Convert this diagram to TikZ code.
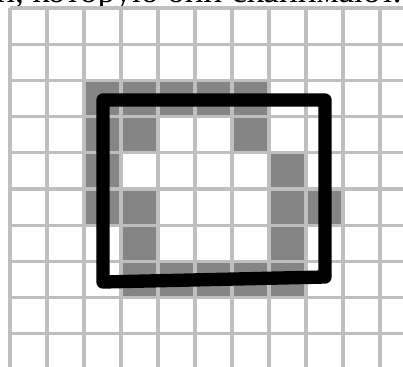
\documentclass[tikz,border=0pt]{standalone}
\usepackage{fontspec}
\setmainfont{Liberation Serif}
\usepackage{tikz}
\usetikzlibrary{positioning}

\tikzset{
  gridline/.style={draw=black!25,line width=2.2pt},
  shaded/.style={fill=black!48},
  frame/.style={draw=black,line width=9.5pt,line join=round,line cap=round}
}

\begin{document}
\begin{tikzpicture}[x=0.025cm,y=-0.025cm]
\useasboundingbox (0,0) rectangle (403,367);
\clip (0,0) rectangle (403,367);
\fill[white] (0,0) rectangle (403,367);
% caption line, cut at the top
\node[anchor=base west,inner sep=0pt,font=\fontsize{25}{29}\selectfont] (caption) at (-4,3) {н, которую они сканимают.};
% shaded cells
\foreach \c/\r in {2/2,3/2,4/2,5/2,6/2, 2/3,3/3,6/3, 2/4,7/4, 2/5,3/5,7/5,8/5, 3/6,7/6, 3/7,4/7,5/7,6/7,7/7}
  \fill[shaded] ({10+37*\c},{8+36.2*\r}) rectangle ({10+37*(\c+1)},{8+36.2*(\r+1)});
% grid
\foreach \i in {0,...,11}
  \draw[gridline] ({10+37*\i},8) -- ({10+37*\i},380);
\foreach \j in {0,...,10}
  \draw[gridline] (10,{8+36.2*\j}) -- (420,{8+36.2*\j});
% hand drawn frame
\coordinate (tl) at (103,100);
\coordinate (tr) at (325,100);
\coordinate (br) at (325,277);
\coordinate (bl) at (103,282);
\draw[frame] (tl) -- (tr) -- (br) -- (bl) -- cycle;
\end{tikzpicture}
\end{document}
